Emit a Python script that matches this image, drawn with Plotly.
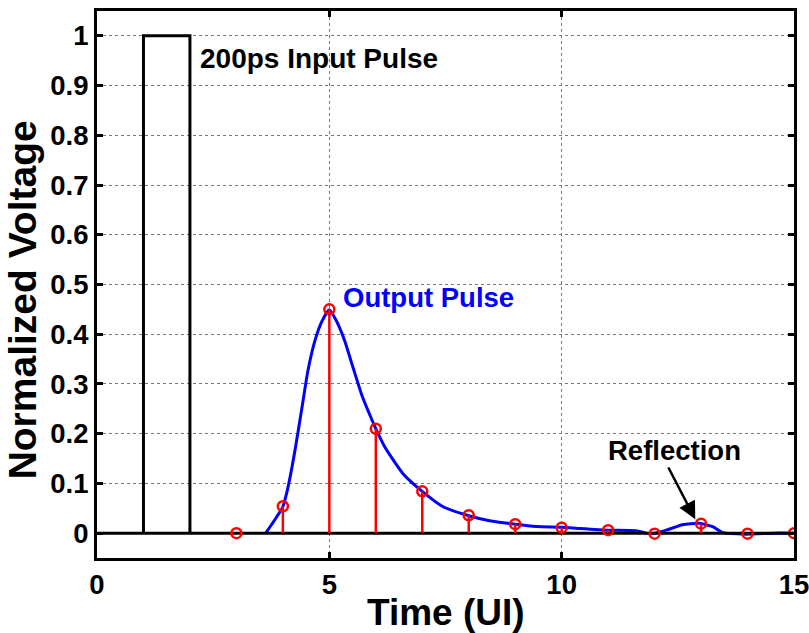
import plotly.graph_objects as go

# ---- data ----
pulse_t = [1, 1, 2, 2]
pulse_v = [0, 1, 1, 0]

baseline_t = [0, 15]
baseline_v = [0, 0]

sample_t = [3, 4, 5, 6, 7, 8, 9, 10, 11, 12, 13, 14, 15]
sample_v = [0.0, 0.054, 0.45, 0.21, 0.084, 0.036, 0.018, 0.011, 0.006, -0.001, 0.019, -0.001, 0.0]

curve_t = [3.63, 3.82, 4.0, 4.11, 4.26, 4.40, 4.54, 4.69, 4.83, 5.0, 5.15, 5.33, 5.51,
           5.69, 5.87, 6.0, 6.2, 6.59, 7.0, 7.45, 8.0, 8.45, 9.0, 9.46, 10.0, 10.39,
           11.0, 11.6, 11.82, 12.0, 12.25, 12.6, 12.96, 13.25, 13.47, 13.97, 14.55, 15.0]
curve_v = [0.0, 0.026, 0.053, 0.092, 0.166, 0.246, 0.327, 0.387, 0.424, 0.449, 0.427, 0.387, 0.333,
           0.28, 0.238, 0.21, 0.172, 0.119, 0.084, 0.053, 0.035, 0.025, 0.018, 0.0135, 0.012, 0.0094,
           0.006, 0.005, 0.0, 0.0, 0.006, 0.017, 0.02, 0.013, 0.001, -0.002, 0.0, 0.0]

x_ticks = [0, 5, 10, 15]
y_ticks = [0, 0.1, 0.2, 0.3, 0.4, 0.5, 0.6, 0.7, 0.8, 0.9, 1]
y_tick_text = ["0", "0.1", "0.2", "0.3", "0.4", "0.5", "0.6", "0.7", "0.8", "0.9", "1"]

FONT = "Liberation Sans, Arial, Helvetica, sans-serif"

# stems built from sample data
stem_x, stem_y = [], []
for t, v in zip(sample_t, sample_v):
    stem_x += [t, t, None]
    stem_y += [0, v, None]

fig = go.Figure()
fig.add_trace(go.Scatter(x=curve_t, y=curve_v, mode="lines",
                         line=dict(color="#0000FF", width=3, shape="spline", smoothing=0.5),
                         showlegend=False, hoverinfo="skip"))
fig.add_trace(go.Scatter(x=pulse_t, y=pulse_v, mode="lines",
                         line=dict(color="black", width=3), showlegend=False))
fig.add_trace(go.Scatter(x=baseline_t, y=baseline_v, mode="lines",
                         line=dict(color="black", width=3), showlegend=False))
fig.add_trace(go.Scatter(x=stem_x, y=stem_y, mode="lines",
                         line=dict(color="#FF0000", width=2.5), showlegend=False))
fig.add_trace(go.Scatter(x=sample_t, y=sample_v, mode="markers",
                         marker=dict(symbol="circle-open", size=10, color="#FF0000",
                                     line=dict(color="#FF0000", width=2.5)),
                         showlegend=False))

axis_common = dict(
    showline=True, linecolor="black", linewidth=3, mirror="ticks",
    ticks="inside", ticklen=6, tickwidth=3, tickcolor="black",
    showgrid=True, gridcolor="#777777", gridwidth=1, griddash="dot",
    zeroline=False, ticklabeloverflow="allow", automargin=False,
    tickfont=dict(family=FONT, size=27.5, color="black", weight="bold"),
)

fig.update_xaxes(range=[0, 15], tickvals=x_ticks, **axis_common)
fig.update_yaxes(range=[-0.05, 1.05], tickvals=y_ticks, ticktext=y_tick_text, **axis_common)

fig.add_annotation(x=0.5, y=-0.1, xref="paper", yref="paper", text="Time (UI)",
                   showarrow=False, xanchor="center", yanchor="middle",
                   font=dict(family=FONT, size=37, color="black", weight="bold"))
fig.add_annotation(x=-0.1076, y=0.471, xref="paper", yref="paper", text="Normalized Voltage",
                   showarrow=False, textangle=-90, xanchor="center", yanchor="middle",
                   font=dict(family=FONT, size=39, color="black", weight="bold"))

fig.add_annotation(x=2.17, y=0.954, text="200ps Input Pulse", showarrow=False,
                   xanchor="left", yanchor="middle",
                   font=dict(family=FONT, size=28, color="black", weight="bold"))
fig.add_annotation(x=7.14, y=0.474, text="Output Pulse", showarrow=False,
                   xanchor="center", yanchor="middle",
                   font=dict(family=FONT, size=27.5, color="#0000FF", weight="bold"))
fig.add_annotation(x=12.43, y=0.166, text="Reflection", showarrow=False,
                   xanchor="center", yanchor="middle",
                   font=dict(family=FONT, size=27.5, color="black", weight="bold"))
fig.add_annotation(x=12.875, y=0.028, ax=12.28, ay=0.135, axref="x", ayref="y",
                   text="", showarrow=True, arrowhead=2, arrowsize=1.4, arrowwidth=2.5,
                   arrowcolor="black")

fig.update_layout(
    width=809, height=633,
    margin=dict(l=97, r=15, t=11, b=75, autoexpand=False),
    plot_bgcolor="white", paper_bgcolor="white",
    showlegend=False,
)

fig.write_html("out.html")
